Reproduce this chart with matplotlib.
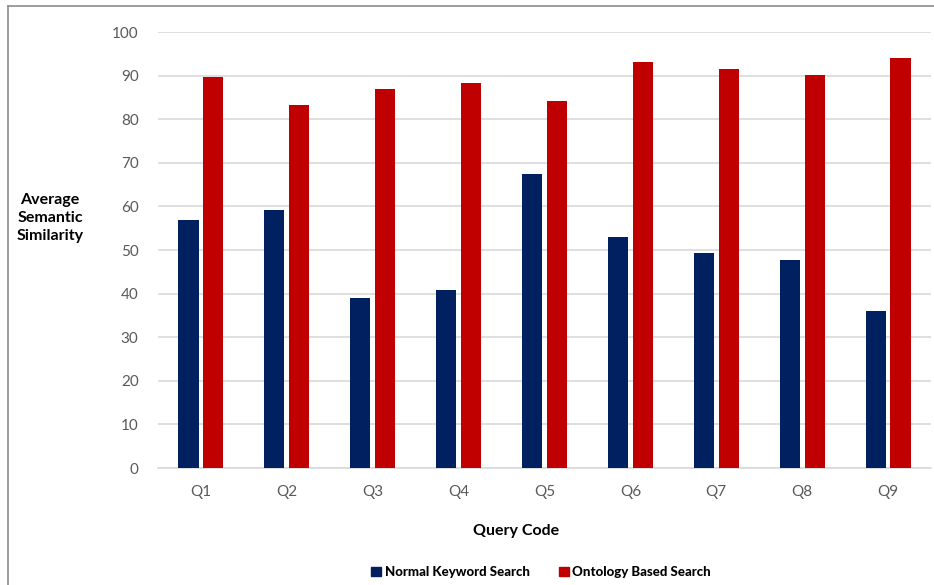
import matplotlib.pyplot as plt
import numpy as np
from matplotlib.lines import Line2D
from matplotlib.patches import Patch

queries = ["Q1", "Q2", "Q3", "Q4", "Q5", "Q6", "Q7", "Q8", "Q9"]
keyword_search = [56.9, 59.2, 39.0, 40.9, 67.5, 52.9, 49.4, 47.6, 36.1]
ontology_search = [89.7, 83.3, 86.9, 88.4, 84.2, 93.1, 91.5, 90.1, 94.0]
y_ticks = [0, 10, 20, 30, 40, 50, 60, 70, 80, 90, 100]

BLUE = "#002060"
RED = "#C00000"
TICK_GRAY = "#595959"

plt.rcParams["font.family"] = ["Lato", "DejaVu Sans"]

W, H = 934, 585
fig = plt.figure(figsize=(W / 100, H / 100), dpi=100)
ax = fig.add_axes([158 / W, (H - 468) / H, (931 - 158) / W, (468 - 32) / H])

x = np.arange(len(queries))
bw = 0.235
off = 0.145
ax.bar(x - off, keyword_search, bw, color=BLUE, zorder=3)
ax.bar(x + off, ontology_search, bw, color=RED, zorder=3)

ax.set_xlim(-0.5, len(queries) - 0.5)
ax.set_ylim(0, 100)
ax.set_yticks(y_ticks)
ax.set_xticks(x)
ax.set_xticklabels(queries)
ax.yaxis.grid(True, color="#D9D9D9", linewidth=1.2, zorder=0)
ax.set_axisbelow(True)
for s in ["top", "right", "left"]:
    ax.spines[s].set_visible(False)
ax.spines["bottom"].set_color("#D9D9D9")
ax.spines["bottom"].set_linewidth(1.2)
ax.tick_params(axis="both", length=0, labelsize=11, colors=TICK_GRAY)
ax.tick_params(axis="y", pad=14)
ax.tick_params(axis="x", pad=12)

fig.text(50 / W, 1 - 218 / H, "Average\nSemantic\nSimilarity", ha="center", va="center",
         fontsize=11.5, fontweight="bold", color="#000000", linespacing=1.35)
fig.text(516 / W, 1 - 531 / H, "Query Code", ha="center", va="center",
         fontsize=11.5, fontweight="bold", color="#000000")

handles = [Patch(color=BLUE, label="Normal Keyword Search"),
           Patch(color=RED, label="Ontology Based Search")]
fig.legend(handles=handles, loc="center", bbox_to_anchor=(541 / W, 1 - 572 / H),
           ncol=2, frameon=False, handlelength=0.75, handleheight=0.75,
           handletextpad=0.3, columnspacing=2.2,
           prop={"weight": "black", "size": 9.5})

# outer frame (top and left edges)
fig.add_artist(Line2D([8 / W, 1], [1 - 6 / H, 1 - 6 / H], transform=fig.transFigure,
                      color="#8C8C8C", linewidth=1.2))
fig.add_artist(Line2D([8 / W, 8 / W], [0, 1 - 6 / H], transform=fig.transFigure,
                      color="#8C8C8C", linewidth=1.2))

fig.savefig("out.png", dpi=100)
